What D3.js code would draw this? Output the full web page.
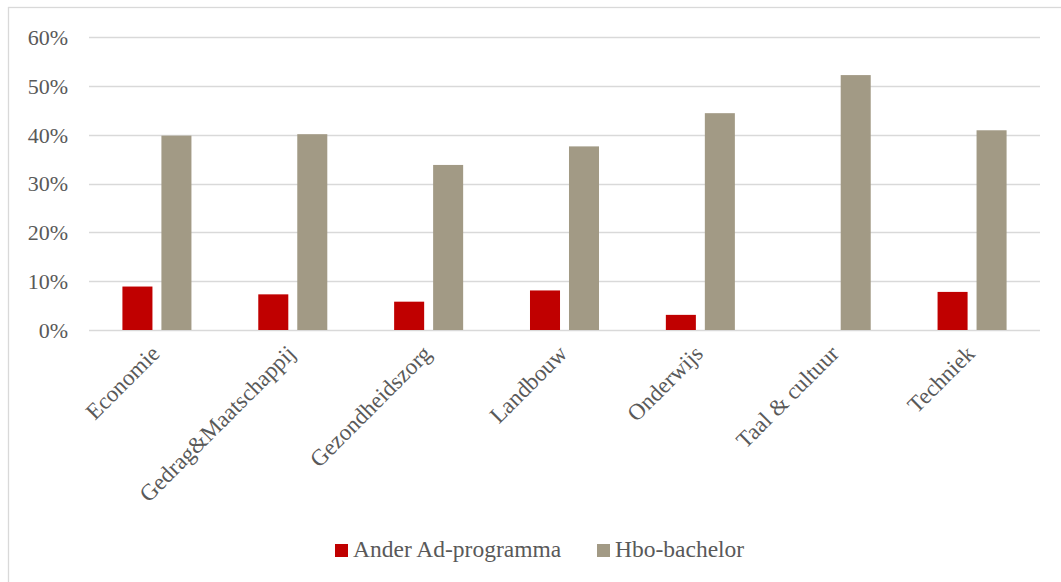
<!DOCTYPE html>
<html><head><meta charset="utf-8">
<script src="https://cdn.jsdelivr.net/npm/d3@7"></script>
<style>body{margin:0;background:#fff}svg{display:block}svg text{font-family:"Liberation Serif","DejaVu Serif",serif !important;fill:#595959}</style>
</head><body>
<svg id="c" width="1061" height="582"></svg>
<script>
const categories = ["Economie","Gedrag&Maatschappij","Gezondheidszorg","Landbouw","Onderwijs","Taal & cultuur","Techniek"];
const seriesNames = ["Ander Ad-programma","Hbo-bachelor"];
const anderAd = [0.089,0.073,0.058,0.081,0.031,0,0.078];
const hboBachelor = [0.398,0.401,0.338,0.376,0.444,0.522,0.409];
const yTicks = [0,0.1,0.2,0.3,0.4,0.5,0.6];
const colors = ["#c00000","#a29a85"];

(function(){
const FONT = "'Liberation Serif', 'DejaVu Serif', serif";
const svg = d3.select("#c");
svg.append("rect").attr("x",8.5).attr("y",7.5).attr("width",1070).attr("height",590)
  .attr("fill","none").attr("stroke","#d9d9d9").attr("stroke-width",1.3);

const pLeft=89, pRight=1040, pTop=37, pBottom=330;
const y = d3.scaleLinear().domain([0,0.6]).range([pBottom,pTop]);
const x0 = d3.scaleBand().domain(categories).range([pLeft,pRight]).padding(0);
const x1 = d3.scaleBand().domain(seriesNames).range([0,x0.bandwidth()]).paddingInner(0.23).paddingOuter(0.857);

svg.append("g").selectAll("line").data(yTicks).join("line")
  .attr("x1",pLeft).attr("x2",pRight).attr("y1",d=>Math.round(y(d))+0.5).attr("y2",d=>Math.round(y(d))+0.5)
  .attr("stroke","#d9d9d9").attr("stroke-width",1.3);

const yAxis = d3.axisLeft(y).tickValues(yTicks).tickFormat(d3.format(".0%")).tickSize(0).tickPadding(0);
const ga = svg.append("g").attr("transform","translate(68,0)").call(yAxis).attr("font-family",FONT);
ga.select(".domain").remove();
ga.selectAll("text").attr("font-size","22px").attr("fill","#595959").attr("font-family",FONT).attr("dy","0.34em");

const rows = categories.map((c,i)=>({cat:c, vals:[anderAd[i],hboBachelor[i]]}));
const g = svg.append("g");
rows.forEach(r=>{
  r.vals.forEach((v,j)=>{
    if(v<=0) return;
    g.append("rect")
      .attr("x",x0(r.cat)+x1(seriesNames[j]))
      .attr("y",y(v))
      .attr("width",x1.bandwidth())
      .attr("height",y(0)-y(v))
      .attr("fill",colors[j]);
  });
});

const xAxis = d3.axisBottom(x0).tickSize(0).tickPadding(0);
const gx = svg.append("g").attr("transform",`translate(4,${pBottom+25})`).call(xAxis).attr("font-family",FONT);
gx.select(".domain").remove();
gx.selectAll("text").attr("font-size","23px").attr("fill","#595959").attr("font-family",FONT)
  .attr("text-anchor","end").attr("dy","0").attr("y",0).attr("transform","rotate(-45)");

const leg = svg.append("g");
const legX = [335,597];
seriesNames.forEach((s,i)=>{
  leg.append("rect").attr("x",legX[i]).attr("y",544).attr("width",13).attr("height",13).attr("fill",colors[i]);
  leg.append("text").attr("x",legX[i]+18).attr("y",557).attr("font-size","23.5px").attr("font-family",FONT).text(s);
});
})();
</script>
</body></html>
